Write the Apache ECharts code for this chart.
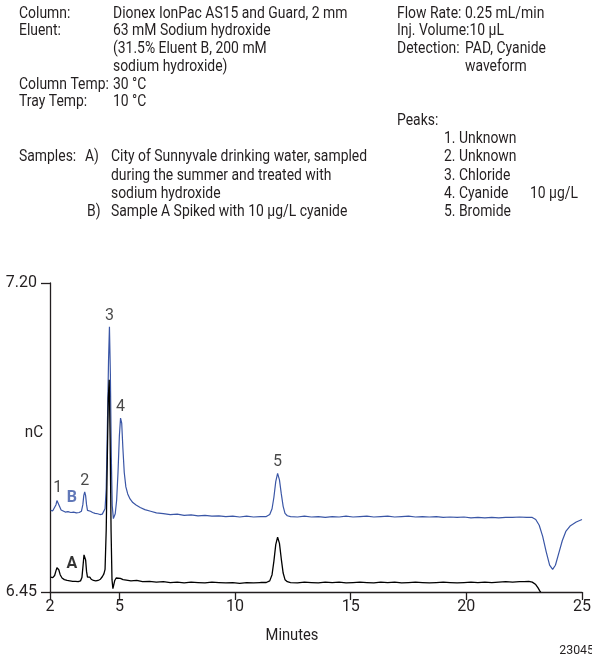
<!DOCTYPE html>
<html>
<head>
<meta charset="utf-8">
<script src="https://cdn.jsdelivr.net/npm/echarts@6/dist/echarts.min.js"></script>
<style>
  html, body { margin: 0; padding: 0; background: #fff; }
  #chart { width: 592px; height: 658px; }
</style>
</head>
<body>
<div id="chart"></div>
<script>
// Retention time (min) and detector response (nC) for trace B (spiked sample)
var timesB = [2.03,2.12,2.20,2.26,2.30,2.33,2.37,2.42,2.48,2.56,2.66,2.78,2.90,3.02,3.14,3.26,3.36,3.42,3.46,3.50,3.54,3.58,3.62,3.66,3.70,3.75,3.84,3.95,4.06,4.16,4.26,4.33,4.38,4.43,4.48,4.53,4.57,4.61,4.65,4.69,4.74,4.78,4.82,4.88,4.94,5.00,5.05,5.10,5.15,5.21,5.28,5.36,5.46,5.58,5.72,5.90,6.10,6.35,6.60,6.90,7.20,7.50,7.80,8.10,8.40,8.70,9.00,9.30,9.60,9.90,10.20,10.50,10.80,11.10,11.35,11.50,11.60,11.68,11.76,11.84,11.92,12.00,12.08,12.16,12.26,12.40,12.70,13.00,13.30,13.60,13.90,14.20,14.50,14.80,15.10,15.40,15.70,16.00,16.30,16.60,16.90,17.20,17.50,17.80,18.10,18.40,18.70,19.00,19.30,19.60,19.90,20.20,20.50,20.80,21.10,21.40,21.70,22.00,22.30,22.60,22.85,23.00,23.15,23.30,23.45,23.60,23.73,23.85,24.00,24.15,24.30,24.50,24.75,25.00];
var signalB = [6.648,6.647,6.651,6.662,6.672,6.675,6.670,6.657,6.649,6.646,6.644,6.645,6.643,6.644,6.642,6.643,6.646,6.662,6.684,6.693,6.684,6.662,6.648,6.647,6.650,6.646,6.643,6.641,6.640,6.638,6.639,6.643,6.652,6.700,6.850,7.010,7.094,6.980,6.780,6.660,6.628,6.626,6.640,6.672,6.740,6.830,6.872,6.860,6.800,6.740,6.705,6.688,6.676,6.667,6.661,6.655,6.650,6.646,6.642,6.640,6.638,6.639,6.636,6.637,6.635,6.636,6.634,6.635,6.633,6.634,6.632,6.634,6.632,6.633,6.633,6.638,6.652,6.680,6.718,6.738,6.722,6.688,6.658,6.641,6.635,6.633,6.632,6.634,6.632,6.633,6.631,6.633,6.632,6.634,6.632,6.633,6.634,6.632,6.633,6.634,6.632,6.633,6.634,6.632,6.633,6.632,6.633,6.631,6.632,6.631,6.632,6.630,6.631,6.630,6.631,6.630,6.631,6.631,6.632,6.631,6.631,6.626,6.612,6.585,6.548,6.515,6.505,6.515,6.545,6.575,6.597,6.611,6.620,6.626];

// Retention time (min) and detector response (nC) for trace A (unspiked sample)
var timesA = [2.03,2.12,2.20,2.26,2.30,2.34,2.38,2.44,2.52,2.62,2.74,2.86,2.98,3.10,3.22,3.32,3.38,3.43,3.47,3.50,3.54,3.58,3.62,3.67,3.72,3.78,3.88,3.98,4.08,4.18,4.26,4.33,4.38,4.43,4.48,4.52,4.56,4.60,4.64,4.68,4.72,4.76,4.80,4.86,4.94,5.04,5.16,5.30,5.50,5.75,6.00,6.30,6.60,6.90,7.20,7.50,7.80,8.10,8.40,8.70,9.00,9.30,9.60,9.90,10.20,10.50,10.80,11.10,11.35,11.50,11.60,11.68,11.76,11.84,11.92,12.00,12.08,12.16,12.26,12.40,12.70,13.00,13.30,13.60,13.90,14.20,14.50,14.80,15.10,15.40,15.70,16.00,16.30,16.60,16.90,17.20,17.50,17.80,18.10,18.40,18.70,19.00,19.30,19.60,19.90,20.20,20.50,20.80,21.10,21.40,21.70,22.00,22.30,22.50,22.70,22.85,23.00,23.10,23.18,23.22];
var signalA = [6.486,6.485,6.490,6.502,6.509,6.510,6.504,6.492,6.484,6.480,6.478,6.477,6.476,6.476,6.475,6.477,6.485,6.515,6.540,6.544,6.528,6.500,6.486,6.484,6.486,6.481,6.478,6.477,6.478,6.481,6.487,6.494,6.505,6.600,6.780,6.920,6.965,6.820,6.600,6.480,6.458,6.462,6.478,6.484,6.481,6.483,6.480,6.479,6.477,6.478,6.475,6.476,6.474,6.475,6.473,6.474,6.472,6.474,6.473,6.472,6.474,6.473,6.472,6.473,6.471,6.473,6.472,6.473,6.473,6.477,6.492,6.525,6.565,6.583,6.568,6.530,6.496,6.480,6.475,6.473,6.472,6.474,6.473,6.472,6.474,6.473,6.474,6.472,6.473,6.474,6.473,6.472,6.474,6.473,6.474,6.472,6.473,6.474,6.473,6.472,6.473,6.474,6.473,6.472,6.473,6.474,6.473,6.474,6.473,6.474,6.475,6.474,6.475,6.475,6.476,6.474,6.468,6.460,6.452,6.450];

// Peak numbering (approximate retention times of the trace B apexes)
var peakNames = ['1', '2', '3', '4', '5'];
var peakTimes = [2.33, 3.50, 4.57, 5.05, 11.84];

// Trace identifiers, placed beside the early baseline of each trace
var traceNames = ['B', 'A'];
var traceLabelTimes = [2.95, 2.95];
var traceLabelLevels = [6.678, 6.518];

// Axis ticks
var xTicks = [2, 5, 10, 15, 20, 25];
var yTicks = [6.45, 7.20];

var BLUE = '#3a56a6';
var INK = '#231f20';
var FONT = "Roboto, 'Liberation Sans', sans-serif";
var SQUEEZE = 0.87;

function zip(t, v) {
  return t.map(function (x, i) { return [x, v[i]]; });
}

// apex value of trace B near each peak time
var peakData = peakTimes.map(function (t, i) {
  var best = -Infinity;
  timesB.forEach(function (x, j) {
    if (Math.abs(x - t) <= 0.06 && signalB[j] > best) best = signalB[j];
  });
  return { value: [t, best], name: peakNames[i] };
});

var traceLabelData = traceNames.map(function (n, i) {
  return {
    value: [traceLabelTimes[i], traceLabelLevels[i]], name: n,
    label: { color: n === 'B' ? BLUE : '#000' }
  };
});

// header text line, left aligned at (x, y) with y the text middle
function txt(x, y, s, size, align, squeeze) {
  return {
    type: 'text', x: x, y: y, scaleX: squeeze || SQUEEZE, silent: true,
    style: {
      text: s, fill: INK, font: (size || 16) + 'px ' + FONT,
      align: align || 'left', verticalAlign: 'middle'
    }
  };
}

var header = [
  txt(19, 14, 'Column:'), txt(113, 14, 'Dionex IonPac AS15 and Guard, 2 mm'),
  txt(19, 31, 'Eluent:'), txt(113, 31, '63 mM Sodium hydroxide'),
  txt(113, 49, '(31.5% Eluent B, 200 mM'),
  txt(113, 67, 'sodium hydroxide)'),
  txt(19, 85, 'Column Temp:'), txt(113, 85, '30 °C'),
  txt(19, 102, 'Tray Temp:'), txt(113, 102, '10 °C'),
  txt(19, 157, 'Samples:'), txt(85, 157, 'A)'), txt(111, 157, 'City of Sunnyvale drinking water, sampled'),
  txt(111, 176, 'during the summer and treated with'),
  txt(111, 194, 'sodium hydroxide'),
  txt(87, 212, 'B)'), txt(111, 212, 'Sample A Spiked with 10 µg/L cyanide'),
  txt(397, 14, 'Flow Rate:'), txt(465, 14, '0.25 mL/min'),
  txt(397, 31, 'Inj. Volume:10 µL'),
  txt(397, 49, 'Detection:'), txt(465, 49, 'PAD, Cyanide'),
  txt(465, 67, 'waveform'),
  txt(397, 121, 'Peaks:'),
  txt(444, 139, '1. Unknown'),
  txt(444, 157, '2. Unknown'),
  txt(444, 176, '3. Chloride'),
  txt(444, 194, '4. Cyanide'), txt(530, 194, '10 µg/L'),
  txt(444, 212, '5. Bromide'),
  // axis titles and figure number
  txt(34, 433, 'nC', 16, 'center', 0.95),
  txt(292, 636, 'Minutes', 16, 'center', 0.92),
  txt(594, 651, '23045', 13, 'right', 0.95)
];

var chart = echarts.init(document.getElementById('chart'), null, { renderer: 'canvas' });
chart.setOption({
  animation: false,
  backgroundColor: '#fff',
  textStyle: { fontFamily: FONT, color: INK },
  grid: { left: 50, right: 10, top: 283, bottom: 66, containLabel: false, outerBoundsMode: 'none' },
  xAxis: {
    type: 'value', min: 2, max: 25,
    axisLine: { lineStyle: { color: INK, width: 1.3 } },
    axisTick: { customValues: xTicks, length: 8, lineStyle: { color: INK, width: 1.3 } },
    axisLabel: { customValues: xTicks, fontSize: 16, color: INK, margin: 7, fontFamily: FONT },
    splitLine: { show: false }
  },
  yAxis: {
    type: 'value', min: 6.45, max: 7.20,
    axisLine: { show: true, lineStyle: { color: INK, width: 1.3 } },
    axisTick: { show: true, customValues: yTicks, length: 9, lineStyle: { color: INK, width: 1.3 } },
    axisLabel: { customValues: yTicks, fontSize: 16, color: INK, margin: 13, fontFamily: FONT,
      formatter: function (v) { return v.toFixed(2); } },
    splitLine: { show: false }
  },
  series: [
    {
      name: 'B', type: 'line', data: zip(timesB, signalB), showSymbol: false, symbol: 'none',
      lineStyle: { color: BLUE, width: 1.2 }, z: 2
    },
    {
      name: 'A', type: 'line', data: zip(timesA, signalA), showSymbol: false, symbol: 'none',
      lineStyle: { color: '#000', width: 1.3 }, z: 3
    },
    {
      name: 'peaks', type: 'scatter', data: peakData, symbolSize: 0, silent: true,
      label: { show: true, position: 'top', distance: 3, formatter: '{b}', fontSize: 16, color: '#1a1a1a', fontFamily: FONT }
    },
    {
      name: 'traces', type: 'scatter', data: traceLabelData, symbolSize: 0, silent: true,
      label: { show: true, position: 'inside', formatter: '{b}', fontSize: 16, fontWeight: 'bold', fontFamily: FONT }
    }
  ],
  graphic: header
});
</script>
</body>
</html>
